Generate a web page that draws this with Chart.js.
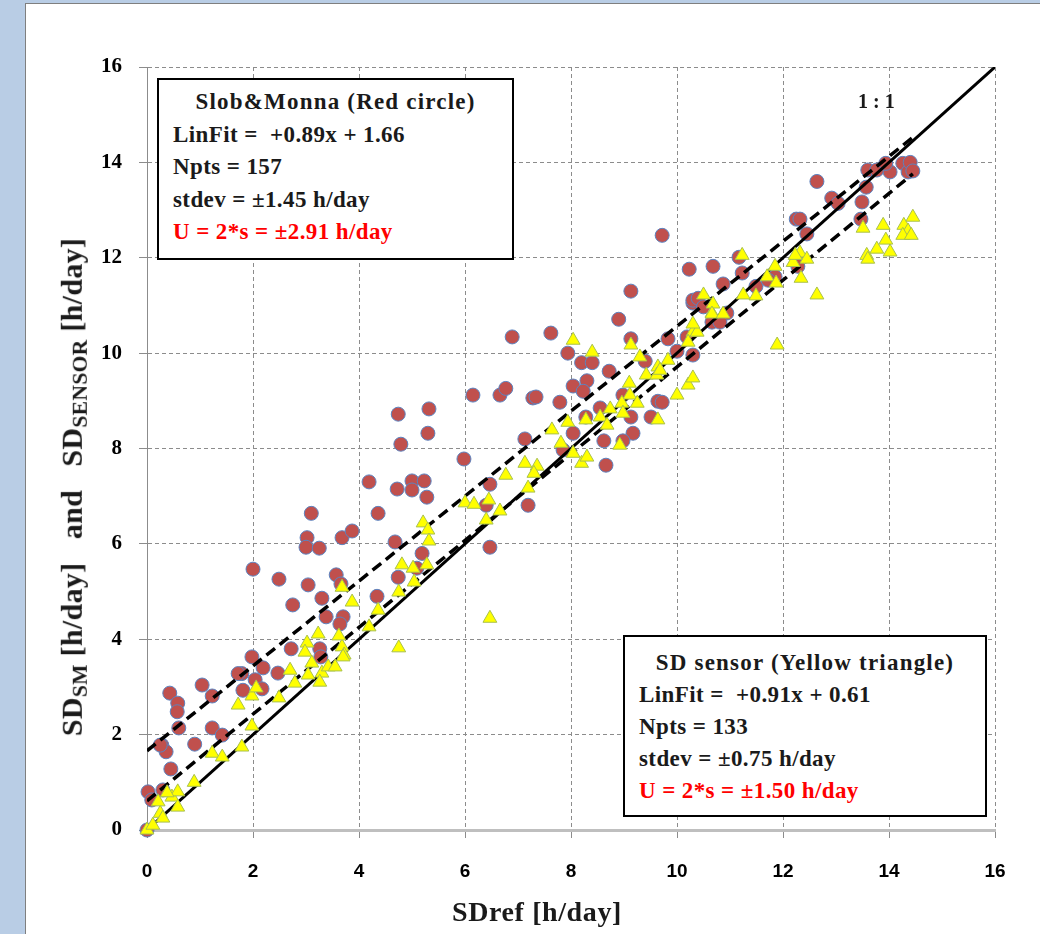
<!DOCTYPE html>
<html>
<head>
<meta charset="utf-8">
<script src="https://cdn.jsdelivr.net/npm/chart.js@4.4.1/dist/chart.umd.min.js"></script>
<style>
  html, body { margin: 0; padding: 0; }
  body { width: 1040px; height: 934px; background: #b9cde5; position: relative; overflow: hidden; }
  #panel { position: absolute; left: 25px; top: 3px; width: 1100px; height: 1000px; background: #fff; border: 1px solid #7f7f7f; }
  #chart { position: absolute; left: 0; top: 0; }
  .box { position: absolute; background: #fff; border: 2px solid #000; box-sizing: border-box;
         font-family: 'Liberation Serif', serif; font-weight: bold; font-size: 23px; letter-spacing: 0.4px; color: #1a1a1a; }
  .box div { white-space: nowrap; }
  .box .ttl { text-align: center; letter-spacing: 1.2px; margin-left: -14px; }
  .red { color: #ff0000; }
  .lbl { position: absolute; font-family: 'Liberation Serif', serif; font-weight: bold; color: #1a1a1a; white-space: nowrap; }
  sub { font-size: 0.72em; vertical-align: -0.25em; }
</style>
</head>
<body>
<div id="panel"></div>
<canvas id="chart" width="1040" height="934"></canvas>

<div class="box" id="boxSM" style="left:157px; top:78px; width:357px; height:182px; padding:6px 0 0 14px; line-height:32.5px;">
  <div class="ttl">Slob&amp;Monna (Red circle)</div>
  <div>LinFit =&nbsp; +0.89x + 1.66</div>
  <div>Npts = 157</div>
  <div>stdev = ±1.45 h/day</div>
  <div class="red">U = 2*s = ±2.91 h/day</div>
</div>

<div class="box" id="boxSensor" style="left:623px; top:635px; width:364px; height:182px; padding:10px 0 0 14px; line-height:32px;">
  <div class="ttl">SD sensor (Yellow triangle)</div>
  <div>LinFit =&nbsp; +0.91x + 0.61</div>
  <div>Npts = 133</div>
  <div>stdev = ±0.75 h/day</div>
  <div class="red">U = 2*s = ±1.50 h/day</div>
</div>

<div class="lbl" style="left:858px; top:90px; font-size:20px;">1 : 1</div>
<div class="lbl" style="left:537px; top:912px; font-size:28px; letter-spacing:0.6px; transform:translate(-50%,-50%);">SDref [h/day]</div>
<div class="lbl" style="left:74px; top:487px; font-size:30px; letter-spacing:0.3px; transform:translate(-50%,-50%) rotate(-90deg);">SD<sub>SM</sub> [h/day]&nbsp;&nbsp; and&nbsp;&nbsp; SD<sub>SENSOR</sub> [h/day]</div>

<script>
// Slob&Monna (red circles): reference SD vs. estimated SD, h/day
const smRef = [0, 0.02, 0.09, 0.3, 0.43, 0.58, 0.57, 0.6, 0.28, 0.36, 0.45, 1.04, 1.23, 0.9, 1.23, 1.42,
  2.0, 2.49, 3.04, 2.75, 3.3, 3.38, 3.7, 3.64, 3.57, 3.66, 3.1, 3.02, 3.0, 3.25, 3.68, 3.87, 4.36, 4.68,
  4.74, 4.34, 5.19, 1.98, 2.72, 3.26, 3.28, 1.79, 1.72, 2.19, 2.04, 2.17, 1.81, 2.47, 0.25,
  4.19, 4.72, 4.74, 5.32, 5.3, 4.79, 5.0, 5.0, 5.23, 5.28, 5.98, 6.15, 6.66, 6.47, 6.4, 6.47, 5.09,
  6.89, 7.62, 8.9, 7.94, 8.2, 8.4, 8.72, 8.3, 8.04, 8.23, 9.13, 9.83, 10.0, 10.3, 10.3, 6.77, 7.28,
  7.34, 7.79, 8.55, 8.28, 8.98, 9.13, 9.51, 9.64, 8.04, 8.62, 9.17, 8.98, 7.85, 8.66, 7.13, 7.19, 9.4, 9.13,
  12.64, 12.92, 13.04, 12.25, 12.32, 12.45, 13.6, 13.77, 14.02, 14.26, 14.36, 13.94, 13.57, 13.49, 13.47,
  10.23, 10.68, 11.17, 11.23, 10.87, 11.49, 11.85, 12.28, 10.3, 10.4, 10.5, 10.94, 10.66, 10.81, 9.72,
  10.19, 9.72, 11.72, 14.4, 14.45];
const smVal = [0, 0.8, 0.63, 0.84, 2.87, 2.66, 2.48, 2.14, 1.78, 1.64, 1.28, 3.04, 2.81, 1.8, 2.14, 1.99,
  5.47, 5.26, 5.14, 4.72, 4.86, 4.47, 4.47, 4.32, 5.35, 5.16, 6.64, 6.13, 5.93, 5.91, 6.13, 6.27, 6.64, 6.04,
  5.3, 4.9, 5.8, 3.63, 3.8, 3.8, 3.63, 3.28, 3.28, 3.4, 3.15, 2.96, 2.93, 3.29, 1.78,
  7.3, 7.15, 8.72, 8.83, 8.32, 8.09, 7.32, 7.13, 7.32, 6.98, 7.78, 9.12, 9.12, 7.25, 6.81, 5.93, 5.49,
  10.34, 10.42, 10.71, 10.0, 9.8, 9.8, 9.62, 9.42, 9.31, 9.2, 10.3, 10.3, 10.04, 9.96, 11.05, 9.26, 9.06,
  9.08, 8.97, 8.85, 8.66, 9.12, 8.66, 8.66, 8.99, 8.32, 8.16, 8.32, 8.16, 7.97, 7.65, 8.2, 6.81, 9.83, 11.3,
  13.6, 13.25, 13.14, 12.81, 12.81, 12.5, 13.84, 13.84, 13.8, 13.98, 13.8, 13.98, 13.48, 13.17, 12.81,
  11.76, 11.82, 12.01, 11.68, 11.45, 11.4, 11.6, 11.82, 11.11, 11.15, 10.97, 10.84, 10.65, 10.65, 12.47,
  10.34, 8.97, 11.53, 14.0, 13.82];

// SD sensor (yellow triangles)
const sensorRef = [0, 0.11, 0.25, 0.3, 0.21, 0.47, 0.58, 0.58, 0.38, 0.89, 1.23, 1.42, 1.79, 1.98, 1.72,
  1.98, 2.06, 2.49, 2.7, 2.79, 3.02, 2.98, 3.23, 3.11, 3.04, 3.3, 3.26, 3.42, 3.55, 3.68, 3.72, 3.62, 4.19,
  3.68, 3.87, 5.21, 5.3, 5.32, 4.81, 5.02, 5.28, 5.04, 4.75, 4.36, 6.0, 6.17, 6.45, 6.4, 6.47, 4.75, 3.7,
  8.04, 8.4, 9.13, 9.3, 9.1, 9.42, 9.64, 9.62, 9.11, 9.25, 8.96, 8.98, 8.74, 8.55, 8.68, 8.28, 7.94, 7.64,
  7.81, 8.04, 8.2, 8.3, 8.92, 9.64, 10.0, 10.21, 10.3, 9.83, 10.3, 10.38, 10.21, 10.66, 7.13, 7.36, 7.3,
  6.77, 7.19, 6.66,
  11.23, 11.85, 12.19, 12.32, 12.45, 11.7, 11.87, 12.34, 12.64, 11.25, 11.49, 10.5, 10.68, 10.66, 10.87,
  10.3, 11.89, 13.51, 13.89, 13.58, 13.6, 13.77, 13.94, 14.02, 14.28, 14.45, 14.36, 14.26, 14.42, 12.23, 9.68];
const sensorVal = [0, 0.1, 0.35, 0.25, 0.59, 0.69, 0.8, 0.48, 0.78, 1.0, 1.61, 1.53, 1.74, 2.18, 2.62,
  2.81, 2.98, 2.77, 3.35, 3.08, 3.92, 3.73, 4.11, 3.5, 3.25, 3.29, 3.1, 3.42, 3.42, 3.84, 3.67, 4.07, 4.26,
  5.09, 4.78, 6.44, 6.29, 6.06, 5.56, 5.49, 5.56, 5.2, 4.99, 4.61, 6.86, 6.83, 6.92, 6.5, 4.44, 3.82, 3.63,
  10.27, 10.02, 10.17, 9.92, 9.37, 9.54, 9.71, 9.54, 9.12, 8.95, 8.95, 8.74, 8.83, 8.66, 8.49, 8.6, 8.55, 8.39,
  8.11, 7.9, 7.69, 7.82, 8.07, 8.6, 9.12, 9.33, 9.48, 9.85, 10.44, 10.44, 10.23, 10.84, 7.69, 7.63, 7.48,
  7.44, 7.17, 6.69,
  12.05, 11.82, 11.9, 12.1, 11.97, 11.6, 11.47, 11.57, 11.22, 11.22, 11.2, 11.22, 11.03, 10.82, 10.82,
  10.61, 10.17, 12.62, 12.68, 12.05, 11.97, 12.18, 12.37, 12.12, 12.68, 12.85, 12.56, 12.47, 12.47, 12.05, 9.64];

// line ends: 1:1 and the two linear fits
const oneToOneX = [0, 16];
const oneToOneY = [0, 16];
const smFitX = [0, 14.5];
const smFitY = [1.66, 14.57];
const sensorFitX = [0, 14.45];
const sensorFitY = [0.61, 13.76];

const axisTicks = [0, 2, 4, 6, 8, 10, 12, 14, 16];

const pts = (xs, ys) => xs.map((x, i) => ({ x: x, y: ys[i] }));

const lineSet = (xs, ys, dash) => ({
  data: pts(xs, ys),
  showLine: true,
  pointRadius: 0,
  borderColor: '#000',
  borderWidth: dash ? 3.5 : 3,
  borderDash: dash ? [11, 6] : [],
  order: 1
});

const gridOpts = { color: '#8c8c8c', lineWidth: 1, tickLength: 8, tickColor: '#8c8c8c' };

new Chart(document.getElementById('chart'), {
  type: 'scatter',
  data: {
    datasets: [
      {
        label: 'SD sensor',
        data: pts(sensorRef, sensorVal),
        pointStyle: 'triangle',
        pointRadius: 8,
        backgroundColor: '#ffff00',
        borderColor: '#a8c04e',
        borderWidth: 1,
        clip: false,
        order: 0
      },
      lineSet(oneToOneX, oneToOneY, false),
      lineSet(smFitX, smFitY, true),
      lineSet(sensorFitX, sensorFitY, true),
      {
        label: 'Slob&Monna',
        data: pts(smRef, smVal),
        pointStyle: 'circle',
        pointRadius: 7,
        backgroundColor: '#c0504d',
        borderColor: '#5b83c0',
        borderWidth: 1,
        clip: false,
        order: 2
      }
    ]
  },
  options: {
    responsive: false,
    animation: false,
    devicePixelRatio: 1,
    layout: { padding: { left: 0, right: 45, top: 67, bottom: 0 } },
    plugins: { legend: { display: false }, tooltip: { enabled: false } },
    scales: {
      x: {
        type: 'linear',
        min: 0,
        max: 16,
        afterBuildTicks: (s) => { s.ticks = axisTicks.map(v => ({ value: v })); },
        afterFit: (s) => { s.height = 104; },
        ticks: {
          color: '#000',
          padding: 22,
          font: { family: "'Liberation Sans Narrow', 'Liberation Sans', sans-serif", weight: 'bold', size: 19 }
        },
        grid: gridOpts,
        border: { color: '#bfbfbf', width: 3, dash: [4, 3] }
      },
      y: {
        type: 'linear',
        min: 0,
        max: 16,
        afterBuildTicks: (s) => { s.ticks = axisTicks.map(v => ({ value: v })); },
        afterFit: (s) => { s.width = 147; },
        ticks: {
          color: '#000',
          padding: 17,
          font: { family: "'Liberation Serif', serif", weight: 'bold', size: 21 }
        },
        grid: gridOpts,
        border: { color: '#8c8c8c', width: 1, dash: [4, 3] }
      }
    }
  }
});
</script>
</body>
</html>
